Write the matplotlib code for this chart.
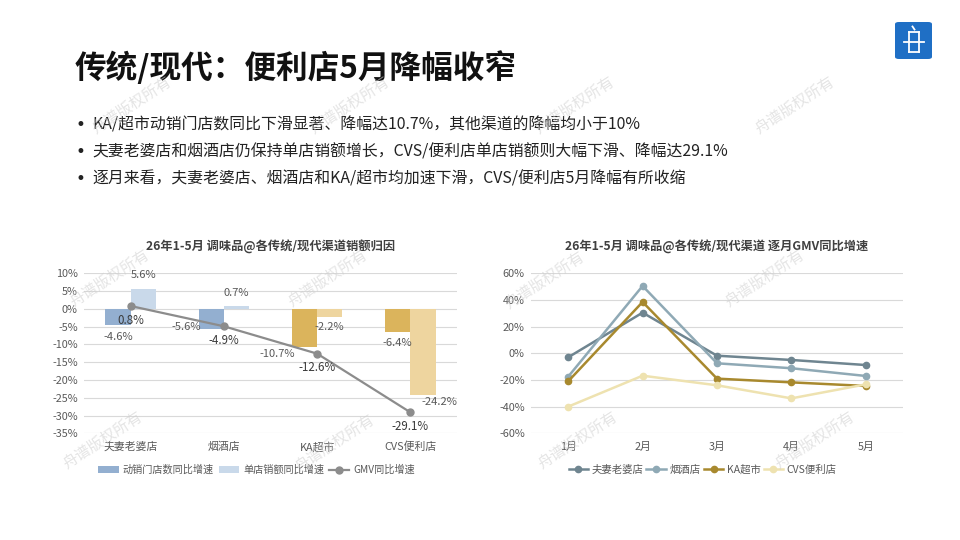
import matplotlib
matplotlib.use("Agg")
import matplotlib.pyplot as plt
import numpy as np
from matplotlib.patches import FancyBboxPatch, Patch

plt.rcParams['font.family'] = ['Noto Sans CJK SC', 'DejaVu Sans']

# 数据
渠道 = ["夫妻老婆店", "烟酒店", "KA超市", "CVS便利店"]
动销门店 = [-4.6, -5.6, -10.7, -6.4]
单店销额 = [5.6, 0.7, -2.2, -24.2]
gmv = [0.8, -4.9, -12.6, -29.1]

月份 = ["1月", "2月", "3月", "4月", "5月"]
月度 = {
    "夫妻老婆店": [-3, 30.5, -1.8, -5, -8.8],
    "烟酒店": [-17.5, 50.5, -7.5, -11.2, -17],
    "KA超市": [-21, 38.5, -19, -21.8, -24.5],
    "CVS便利店": [-40, -16.8, -24, -33.8, -23.3],
}

标题 = "传统/现代：便利店5月降幅收窄"
要点 = [
    "KA/超市动销门店数同比下滑显著、降幅达10.7%，其他渠道的降幅均小于10%",
    "夫妻老婆店和烟酒店仍保持单店销额增长，CVS/便利店单店销额则大幅下滑、降幅达29.1%",
    "逐月来看，夫妻老婆店、烟酒店和KA/超市均加速下滑，CVS/便利店5月降幅有所收缩",
]

灰字 = '#595959'
网格 = '#d9d9d9'

fig = plt.figure(figsize=(9.6, 5.4), dpi=100)
W, H = 960, 540

# 标题和要点
fig.text(75 / W, 1 - 68 / H, 标题, fontsize=22.8, fontweight='bold', color='#111111', va='center')
for i, s in enumerate(要点):
    y = 1 - (125 + 27 * i) / H
    fig.text(75 / W, y, "•", fontsize=12, color='#222222', va='center', family='DejaVu Sans')
    fig.text(92 / W, y, s, fontsize=11.4, color='#222222', va='center')

# logo
logo = FancyBboxPatch((895 / W, 1 - 59 / H), 37 / W, 37 / H,
                      boxstyle="round,pad=0,rounding_size=0.004",
                      transform=fig.transFigure, facecolor='#1f6fc5', edgecolor='none')
fig.patches.append(logo)
cx, cy = 913.5, 40.5
for (x0, y0, x1, y1) in [(cx - 5, cy - 9, cx + 5, cy - 9), (cx - 5, cy - 9, cx - 5, cy + 11),
                         (cx + 5, cy - 9, cx + 5, cy + 11), (cx - 10, cy + 1, cx + 10, cy + 1),
                         (cx - 5, cy + 11, cx + 5, cy + 11), (cx - 1, cy - 14, cx + 1, cy - 11)]:
    fig.add_artist(plt.Line2D([x0 / W, x1 / W], [1 - y0 / H, 1 - y1 / H],
                              transform=fig.transFigure, color='white', lw=1.3))

# 左图：销额归因
ax1 = fig.add_axes([84 / W, 1 - 433.3 / H, 373 / W, 160 / H])
x = np.arange(len(渠道))
bw = 0.27
深色 = ['#93afd0', '#93afd0', '#dbb45c', '#dbb45c']
浅色 = ['#c9d9ea', '#c9d9ea', '#eed59f', '#eed59f']
ax1.bar(x - bw / 2, 动销门店, bw, color=深色, zorder=2)
ax1.bar(x + bw / 2, 单店销额, bw, color=浅色, zorder=2)
gmv_line, = ax1.plot(x, gmv, color='#8c8c8c', lw=1.6, marker='o', ms=5, zorder=3)
ax1.set_xlim(-0.5, 3.5)
ax1.set_ylim(-35, 10)
ax1.set_yticks(np.arange(-35, 11, 5))
ax1.set_yticklabels([f"{v}%" for v in range(-35, 11, 5)])
ax1.set_xticks(x)
ax1.set_xticklabels(渠道)

# 数据标签偏移（像素）
偏移_深 = [(0, -11.5), (-24.6, 2), (-27.3, -7), (0, -11)]
偏移_浅 = [(0, 14), (0, 13.7), (0, -10.6), (16.7, -6.7)]
for i in range(len(渠道)):
    dx, dy = 偏移_深[i]
    ax1.annotate(f"{动销门店[i]}%", (x[i] - bw / 2, 动销门店[i]), xytext=(dx * 0.72, dy * 0.72),
                 textcoords='offset points', ha='center', va='center', fontsize=8, color=灰字)
    dx, dy = 偏移_浅[i]
    ax1.annotate(f"{单店销额[i]}%", (x[i] + bw / 2, 单店销额[i]), xytext=(dx * 0.72, dy * 0.72),
                 textcoords='offset points', ha='center', va='center', fontsize=8, color=灰字)
    ax1.annotate(f"{gmv[i]}%", (x[i], gmv[i]), xytext=(0, -14 * 0.72),
                 textcoords='offset points', ha='center', va='center', fontsize=8.3,
                 color='#3a3a3a', fontweight='medium')

ax1.set_title("26年1-5月 调味品@各传统/现代渠道销额归因", fontsize=8.8, fontweight='bold',
              color='#404040', pad=16)
h = [Patch(facecolor='#93afd0'), Patch(facecolor='#c9d9ea'), gmv_line]
l = ["动销门店数同比增速", "单店销额同比增速", "GMV同比增速"]
ax1.legend(h, l, loc='center', bbox_to_anchor=(256.7 / W, 1 - 470 / H),
           bbox_transform=fig.transFigure, ncol=3, frameon=False, fontsize=7.3,
           handlelength=2.0, handleheight=0.7, columnspacing=0.5, handletextpad=0.4,
           labelcolor=灰字, numpoints=1)

# 右图：逐月GMV
ax2 = fig.add_axes([531 / W, 1 - 433.3 / H, 372 / W, 160 / H])
线色 = {
    "夫妻老婆店": '#6f8590',
    "烟酒店": '#8fa9b5',
    "KA超市": '#a8892e',
    "CVS便利店": '#eee2b0',
}
m = np.arange(len(月份))
for k, v in 月度.items():
    ax2.plot(m, v, color=线色[k], lw=1.8, marker='o', ms=4.5, label=k, zorder=3)
ax2.set_xlim(-0.5, 4.5)
ax2.set_ylim(-60, 60)
ax2.set_yticks(np.arange(-60, 61, 20))
ax2.set_yticklabels([f"{v}%" for v in range(-60, 61, 20)])
ax2.set_xticks(m)
ax2.set_xticklabels(月份)
ax2.set_title("26年1-5月 调味品@各传统/现代渠道 逐月GMV同比增速", fontsize=8.8,
              fontweight='bold', color='#404040', pad=16)
ax2.legend(loc='center', bbox_to_anchor=(702.5 / W, 1 - 470 / H), bbox_transform=fig.transFigure,
           ncol=4, frameon=False, fontsize=7.5, handlelength=1.9, columnspacing=0.3,
           handletextpad=0.3, numpoints=1, labelcolor=灰字)

for ax in (ax1, ax2):
    for s in ax.spines.values():
        s.set_visible(False)
    ax.tick_params(length=0, colors=灰字, labelsize=7.8)
    ax.tick_params(axis='y', pad=4.5)
    ax.tick_params(axis='x', pad=6)
    ax.grid(axis='y', color=网格, lw=0.8, zorder=0)
    ax.set_axisbelow(True)

# 水印
水印位置 = [(132, 105), (350, 105), (575, 105), (795, 105),
            (110, 278), (328, 278), (545, 280), (765, 278),
            (103, 440), (335, 443), (578, 440), (815, 440)]
for (wx, wy) in 水印位置:
    fig.text(wx / W, 1 - wy / H, "舟谱版权所有", fontsize=11, color='#cfcfcf', alpha=0.55,
             rotation=33, ha='center', va='center', zorder=10)

fig.savefig("out.png", dpi=100)
